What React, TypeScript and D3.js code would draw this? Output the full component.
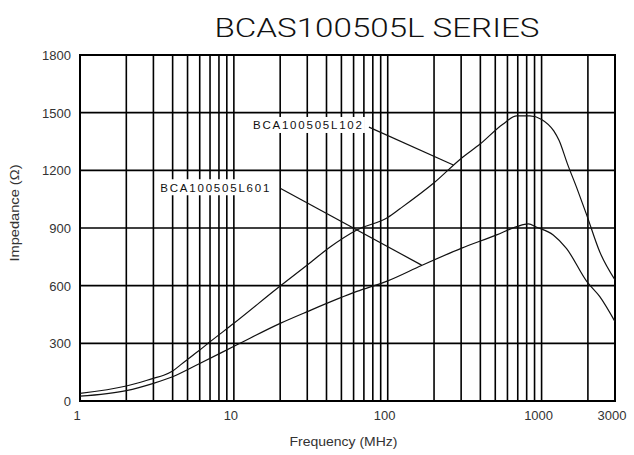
import React from "react";
import * as d3 from "d3";

const title = "BCAS100505L SERIES";
const xLabel = "Frequency (MHz)";
const yLabel = "Impedance (Ω)";
const xTickValues = [1, 10, 100, 1000, 3000];
const yTickValues = [0, 300, 600, 900, 1200, 1500, 1800];
const gridFreqs = [2, 3, 4, 5, 6, 7, 8, 9, 10, 20, 30, 40, 50, 60, 70, 80, 90, 100, 200, 300, 400, 500, 600, 700, 800, 900, 1000, 2000];

// BCA100505L102
const freqL102 = [1, 2, 3, 3.5, 4, 4.5, 5, 6, 7, 10, 20, 30, 42, 63, 100, 120, 200, 300, 400, 560, 690, 840, 1000, 1200, 1300, 1470, 1700, 1950, 2390, 3000];
const impL102 = [40, 78, 118, 134, 156, 188, 216, 265, 308, 404, 598, 707, 800, 890, 955, 1000, 1135, 1262, 1338, 1440, 1483, 1483, 1465, 1405, 1355, 1235, 1105, 975, 775, 630];

// BCA100505L601
const freqL601 = [1, 2, 3, 4, 6, 10.4, 20, 30, 63, 100, 166, 300, 510, 690, 820, 930, 1190, 1450, 1970, 2390, 3000];
const impL601 = [25, 54, 92, 126, 195, 291, 404, 465, 570, 625, 705, 794, 864, 907, 921, 904, 864, 794, 621, 543, 413];

const labelNames = ["BCA100505L102", "BCA100505L601"];
const labelFreq = [68, 17];
const labelImp = [1436, 1112];
const leaderStartFreq = [75.5, 20];
const leaderStartImp = [1425, 1107];
const leaderEndFreq = [267, 166];
const leaderEndImp = [1228, 707];

const W = 634;
const H = 455;
const M = { left: 80, right: 19, top: 55, bottom: 54 };

export default function App() {
  const x = d3.scaleLog().domain([1, 3000]).range([M.left, W - M.right]);
  const y = d3.scaleLinear().domain([0, 1800]).range([H - M.bottom, M.top]);
  const line = d3
    .line<[number, number]>()
    .x((d) => x(d[0]))
    .y((d) => y(d[1]))
    .curve(d3.curveMonotoneX);
  const d102 = line(freqL102.map((f, i) => [f, impL102[i]]) as [number, number][]) || "";
  const d601 = line(freqL601.map((f, i) => [f, impL601[i]]) as [number, number][]) || "";
  const font = "Arial, 'Liberation Sans', sans-serif";
  const x0 = x(1);
  const x1 = x(3000);
  const y0 = y(0);
  const y1 = y(1800);

  return (
    <svg
      width={W}
      height={H}
      style={{ position: "absolute", left: 0, top: 0, background: "#fff" }}
      fontFamily={font}
    >
      <rect x={0} y={0} width={W} height={H} fill="#fff" />
      <text
        x={377}
        y={37}
        textAnchor="middle"
        fontSize={26}
        fontFamily="Roboto, Arial, sans-serif"
        fontWeight={300}
        fill="#111"
        textLength={325}
        lengthAdjust="spacingAndGlyphs"
      >
        {title}
      </text>
      {/* grid */}
      {gridFreqs.map((f) => (
        <line key={"v" + f} x1={x(f)} x2={x(f)} y1={y1} y2={y0} stroke="#000" strokeWidth={1.6} />
      ))}
      {yTickValues.slice(1, -1).map((v) => (
        <line key={"h" + v} x1={x0} x2={x1} y1={y(v)} y2={y(v)} stroke="#000" strokeWidth={1.6} />
      ))}
      <rect x={x0} y={y1} width={x1 - x0} height={y0 - y1} fill="none" stroke="#000" strokeWidth={2} />
      {/* curves */}
      <path d={d102} fill="none" stroke="#111" strokeWidth={1.2} />
      <path d={d601} fill="none" stroke="#111" strokeWidth={1.2} />
      {/* labels */}
      {labelNames.map((name, i) => {
        const lx = x(labelFreq[i]);
        const ly = y(labelImp[i]);
        const w = 109;
        return (
          <g key={name}>
            <rect x={lx - w - 3} y={ly - 8} width={w + 6} height={16} fill="#fff" />
            <text x={lx - w} y={ly + 4.5} fontSize={11.5} fill="#111" textLength={w} lengthAdjust="spacing">
              {name}
            </text>
            <line
              x1={x(leaderStartFreq[i])}
              y1={y(leaderStartImp[i])}
              x2={x(leaderEndFreq[i])}
              y2={y(leaderEndImp[i])}
              stroke="#111"
              strokeWidth={1.2}
            />
          </g>
        );
      })}
      {/* y ticks */}
      {yTickValues.map((v) => (
        <text key={"yt" + v} x={x0 - 9} y={y(v) + 5} textAnchor="end" fontSize={13} fill="#333">
          {v}
        </text>
      ))}
      {xTickValues.map((v) => (
        <text key={"xt" + v} x={x(v) - 3} y={y0 + 19} textAnchor="middle" fontSize={13} fill="#333">
          {v}
        </text>
      ))}
      <text
        x={(x0 + x1) / 2 - 4}
        y={y0 + 45}
        textAnchor="middle"
        fontSize={13}
        fill="#333"
        textLength={108}
        lengthAdjust="spacingAndGlyphs"
      >
        {xLabel}
      </text>
      <text
        transform={`translate(18.5, ${(y0 + y1) / 2 - 15}) rotate(-90)`}
        textAnchor="middle"
        fontSize={13}
        fill="#333"
        textLength={97}
        lengthAdjust="spacingAndGlyphs"
      >
        {yLabel}
      </text>
    </svg>
  );
}
